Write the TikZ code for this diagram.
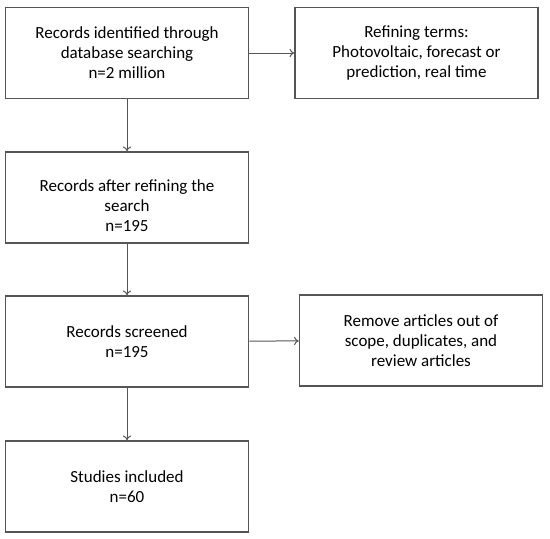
\documentclass[tikz,border=0pt]{standalone}
\usepackage{fontspec}
\setmainfont{Carlito}
\usetikzlibrary{arrows.meta,positioning}
\definecolor{borde}{RGB}{85,85,85}
\tikzset{
  caja/.style={
    rectangle, draw=borde, line width=0.45mm, align=center,
    font=\fontsize{14.5}{17.2}\selectfont, text=black,
    minimum width=72.9mm, minimum height=27.3mm, inner sep=2pt},
  flecha/.style={-{To[length=4pt,width=7pt]}, draw=borde, line width=0.3mm}
}
\begin{document}
\begin{tikzpicture}[x=0.3mm,y=-0.3mm]

% Marco
\useasboundingbox (0,0) rectangle (550,538);

\node[caja] (busqueda) at (127,53) {Records identified through\\database searching\\n=2 million};
\node[caja] (terminos) at (416.5,53) {Refining terms:\\Photovoltaic, forecast or\\prediction, real time};
\node[caja] (refinado) at (127,197.5) {\rule{0pt}{24pt}Records after refining the\\search\\n=195};
\node[caja] (cribado) at (127,341.5) {Records screened\\n=195};
\node[caja] (excluidos) at (421,340.5) {Remove articles out of\\scope, duplicates, and\\review articles};
\node[caja] (incluidos) at (127,486.5) {Studies included\\n=60};

\draw[flecha] (busqueda) -- (terminos);
\draw[flecha] (busqueda) -- (refinado);
\draw[flecha] (refinado) -- (cribado);
\draw[flecha] (cribado) -- (excluidos);
\draw[flecha] (cribado) -- (incluidos);

\end{tikzpicture}
\end{document}
